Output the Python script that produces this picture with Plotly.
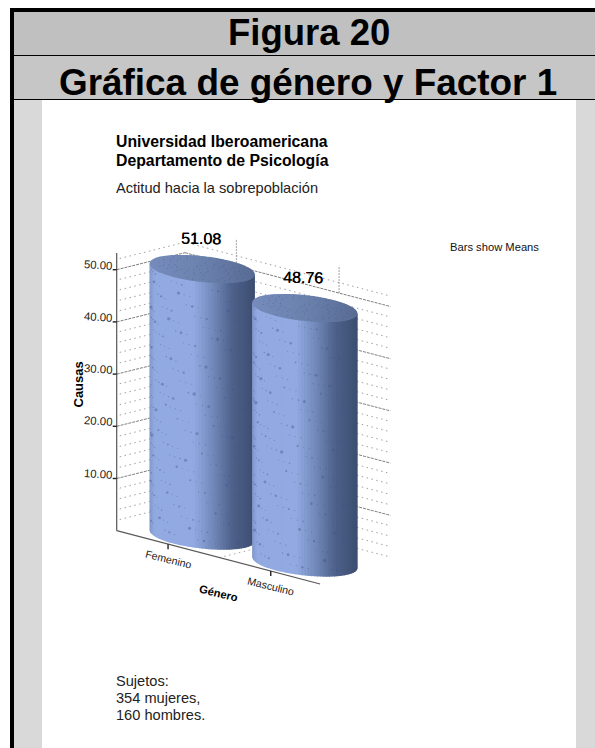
import math
import plotly.graph_objects as go

# ---- data ----
categories = ["Femenino", "Masculino"]
means = [51.08, 48.76]
mean_labels = ["51.08", "48.76"]
major_ticks = [10, 20, 30, 40, 50]
tick_labels = ["10.00", "20.00", "30.00", "40.00", "50.00"]
minor_ticks = [2, 4, 6, 8, 12, 14, 16, 18, 22, 24, 26, 28, 32, 34, 36, 38, 42, 44, 46, 48, 52]
axis_top = 53.2

FONT = "Liberation Sans"
W, H = 595, 748

# oblique projection (category position, depth 0..1, value) -> page pixels
X0, Y0 = 116.7, 530.7
CX, CY = 102.7, 26.9
DX, DY = 68.3, -17.0
VY = 5.22
RADIUS = 0.42


def P(c, d, v):
    return X0 + c * CX + d * DX, Y0 + c * CY + d * DY - v * VY


def rim(c, v, t, r=RADIUS):
    return P(c + r * math.cos(t), 0.5 + r * math.sin(t), v)


T0 = math.atan2(RADIUS * DX, RADIUS * CX)  # angle of the right-most silhouette point


def lerp_color(stops, f):
    for (a, ca), (b, cb) in zip(stops, stops[1:]):
        if f <= b:
            k = (f - a) / (b - a) if b > a else 0
            return "rgb(%d,%d,%d)" % tuple(round(x + (y - x) * k) for x, y in zip(ca, cb))
    return "rgb(%d,%d,%d)" % stops[-1][1]


SIDE = [(0, (130, 152, 202)), (0.05, (146, 170, 226)), (0.42, (146, 170, 226)), (0.6, (116, 139, 188)),
        (0.8, (78, 97, 138)), (1, (62, 79, 114))]
CAP = [(0, (118, 140, 188)), (0.5, (108, 130, 174)), (1, (88, 108, 148))]

fig = go.Figure()


def line(xs, ys, color, width=1, dash="solid"):
    fig.add_trace(go.Scatter(x=xs, y=ys, mode="lines", hoverinfo="skip", showlegend=False,
                             line=dict(color=color, width=width, dash=dash)))


def poly(xs, ys, color):
    fig.add_trace(go.Scatter(x=xs, y=ys, mode="lines", fill="toself", fillcolor=color, hoverinfo="skip",
                             showlegend=False, line=dict(color=color, width=1.5)))


# walls: grid lines on the left wall and the back wall
for v in minor_ticks:
    a, b, c = P(0, 0, v), P(0, 1, v), P(2, 1, v)
    line([a[0] + 3, b[0], c[0]], [a[1] - 0.8, b[1], c[1]], "#a0a0a0", 1, "1.5px,3.5px")
for v in major_ticks:
    a, b, c = P(0, 0, v), P(0, 1, v), P(2, 1, v)
    line([a[0], b[0]], [a[1], b[1]], "#808080", 1, "3px,1px")
    line([b[0], c[0]], [b[1], c[1]], "#808080", 1, "3px,1px")
# top of the walls
for k in (0.5, 1.5):
    a, b = P(k, 1, 50), P(k, 1, axis_top + 2.0)
    line([a[0], b[0]], [a[1], b[1]], "#a0a0a0", 1, "2px,1px")
a, b = P(1, 0, 0), P(1, 1, 0)
line([a[0], b[0]], [a[1], b[1]], "#a8a8a8", 1, "1.5px,3.5px")

# cylinders
N = 52
for i, (cat, val) in enumerate(zip(categories, means)):
    c = i + 0.5
    left = rim(c, 0, T0 + math.pi)[0]
    right = rim(c, 0, T0)[0]
    for s in range(N):
        # walk the front half of the rim from the left to the right silhouette
        t1 = T0 + math.pi + math.pi * s / N
        t2 = T0 + math.pi + math.pi * (s + 1) / N
        p1, p2, p3, p4 = rim(c, 0, t1), rim(c, 0, t2), rim(c, val, t2), rim(c, val, t1)
        f = ((p1[0] + p2[0]) / 2 - left) / (right - left)
        poly([p1[0], p2[0], p3[0], p4[0], p1[0]], [p1[1], p2[1], p3[1], p4[1], p1[1]], lerp_color(SIDE, f))
    for s in range(N):
        ph1 = math.pi * s / N
        ph2 = math.pi * (s + 1) / N
        p1, p2, p3, p4 = rim(c, val, T0 + math.pi - ph1), rim(c, val, T0 + math.pi - ph2), \
            rim(c, val, T0 + math.pi + ph2), rim(c, val, T0 + math.pi + ph1)
        f = ((p1[0] + p2[0]) / 2 - left) / (right - left)
        poly([p1[0], p2[0], p3[0], p4[0], p1[0]], [p1[1], p2[1], p3[1], p4[1], p1[1]], lerp_color(CAP, f))
    # stone-like surface texture, on a golden-ratio lattice (decoration only)
    sx, sy, ss = [], [], []
    for k in range(1, 330):
        u = (k * 0.6180339887 + i * 0.37) % 1
        w = (k * 0.7548776662 + i * 0.21) % 1
        q = rim(c, 0.5 + w * (val - 1), T0 + math.pi + math.pi * (0.03 + 0.94 * u))
        sx.append(q[0])
        sy.append(q[1])
        ss.append(1.1 + 2.4 * ((k * 0.4142) % 1) ** 5)
    for k in range(1, 70):
        u = (k * 0.6180339887 + i * 0.37) % 1
        w = (k * 0.7548776662 + i * 0.21) % 1
        q = rim(c, val, 2 * math.pi * u, RADIUS * math.sqrt(w) * 0.95)
        sx.append(q[0])
        sy.append(q[1])
        ss.append(1.2)
    fig.add_trace(go.Scatter(x=sx, y=sy, mode="markers", hoverinfo="skip", showlegend=False,
                             marker=dict(color="#3f5488", opacity=0.4, size=ss, line=dict(width=0))))

# axes
a, b = P(0, 0, 0), P(0, 0, axis_top)
line([a[0], b[0]], [a[1], b[1]], "#555555", 1.2)
a, b = P(0, 0, 0), P(1.98, 0, 0)
line([a[0], b[0]], [a[1], b[1]], "#5a5a5a", 1.2)
for v in major_ticks:
    p = P(0, 0, v)
    line([p[0] - 4, p[0]], [p[1], p[1]], "#222222", 1.4)
for k in range(len(categories)):
    p = P(k + 0.5, 0, 0)
    line([p[0], p[0]], [p[1], p[1] + 5], "#222222", 1.4)

annotations = []


def text(s, x, y, size, bold=False, color="#111111", angle=0, xanchor="center", shadow=None):
    font = dict(family=FONT, size=size, color=color)
    if shadow:
        font["shadow"] = shadow
    annotations.append(dict(x=x, y=y, xref="x", yref="y", text=f"<b>{s}</b>" if bold else s, showarrow=False,
                            xanchor=xanchor, yanchor="middle", textangle=angle, align="left", font=font))


text("Figura 20", 309, 32.5, 36.5, True, "#000000")
text("Gráfica de género y Factor 1", 307.5, 82, 36.9, True, "#000000")
text("Universidad Iberoamericana", 114, 141, 15.8, True, "#000000", xanchor="left")
text("Departamento de Psicología", 114, 160, 15.8, True, "#000000", xanchor="left")
text("Actitud hacia la sobrepoblación", 114, 188, 14.6, False, "#222222", xanchor="left")
text("Bars show Means", 448, 247, 11.2, False, "#111111", xanchor="left")
text("Sujetos:", 114, 681, 14.6, False, "#222222", xanchor="left")
text("354 mujeres,", 114, 698, 14.6, False, "#222222", xanchor="left")
text("160 hombres.", 114, 715, 14.6, False, "#222222", xanchor="left")

for v, lab in zip(major_ticks, tick_labels):
    p = P(0, 0, v)
    text(lab, p[0] - 18, p[1] - 5, 11.4, False, "#222222", angle=4)
for k, (cat, val, lab) in enumerate(zip(categories, means, mean_labels)):
    p = rim(k + 0.5, val, 0, 0)
    text(lab, p[0] - 1.5, p[1] - 30.5, 16, False, "#000000", angle=1, shadow="0.4px 0 0 #000000")
    q = P(k + 0.5, 0, 0)
    text(cat, q[0], q[1] + 15, 10.6, False, "#222222", angle=14)
text("Causas", 78, 384.5, 13, True, "#000000", angle=-90)
text("Género", 218, 593, 11.2, True, "#000000", angle=14)

shapes = []


def rect(x0, y0, x1, y1, color):
    shapes.append(dict(type="rect", xref="x", yref="y", x0=x0, y0=y0, x1=x1, y1=y1, layer="below",
                       fillcolor=color, line=dict(width=0)))


rect(14, 100, 595, 748, "#d9d9d9")
rect(42, 100, 576, 748, "#ffffff")
rect(14, 12, 595, 55, "#c0c0c0")
rect(14, 56, 595, 99, "#c6c6c6")
rect(10, 8, 595, 12, "#000000")
rect(10, 8, 14, 748, "#000000")
rect(14, 55, 595, 56, "#000000")
rect(14, 99, 595, 100, "#000000")

fig.update_layout(
    width=W, height=H, margin=dict(l=0, r=0, t=0, b=0), showlegend=False,
    paper_bgcolor="#ffffff", plot_bgcolor="#ffffff", shapes=shapes, annotations=annotations,
    xaxis=dict(range=[0, W], visible=False, fixedrange=True),
    yaxis=dict(range=[H, 0], visible=False, fixedrange=True),
)
fig.write_html("out.html", config={"displayModeBar": False},
               post_script="document.body.style.margin='0';document.body.style.overflow='hidden';")
